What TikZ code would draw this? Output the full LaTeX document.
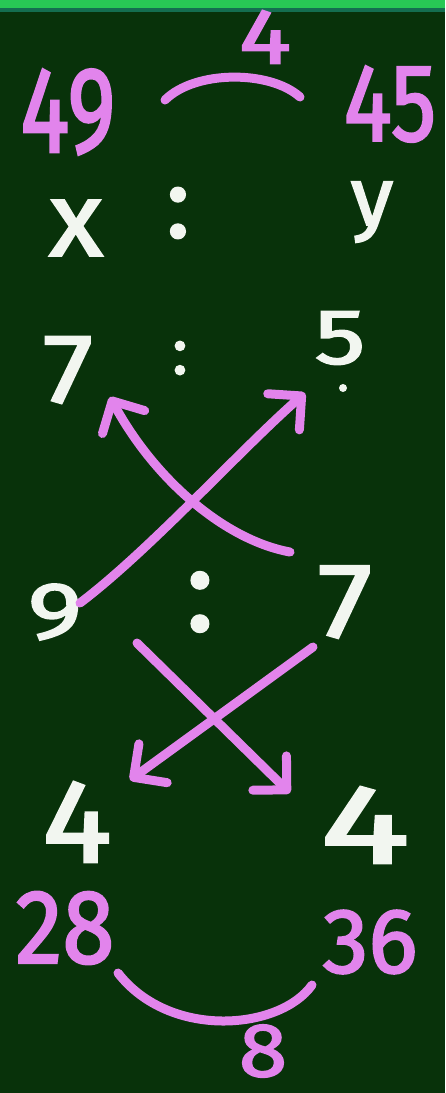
\documentclass[tikz,border=0pt]{standalone}
\usepackage{fontspec}
\usepackage{graphicx}
\setmainfont{Fira Sans}
\newfontfamily\hwfont{Fira Sans}[FakeBold=2.2]
\usetikzlibrary{arrows.meta}
\definecolor{board}{RGB}{8,50,10}
\definecolor{chalkpink}{RGB}{226,132,236}
\definecolor{chalkwhite}{RGB}{242,246,240}
\definecolor{topgreen}{RGB}{40,200,85}
\definecolor{topteal}{RGB}{20,110,80}
\newcommand{\hw}[3]{\fontsize{#1}{#1}\hwfont\scalebox{#2}[1]{#3}}
\tikzset{
  pinktext/.style={text=chalkpink, inner sep=0pt},
  whitetext/.style={text=chalkwhite, inner sep=0pt},
  stroke/.style={draw=chalkpink, line width=9pt, line cap=round},
  arr/.style={stroke, -{Straight Barb[length=24pt,width=48pt,round]}},
}
\begin{document}
\begin{tikzpicture}[x=1pt,y=-1pt]
\fill[board] (0,0) rectangle (445,1093);
\useasboundingbox (0,0) rectangle (445,1093);
\fill[topteal] (0,0) rectangle (445,12);
\fill[topgreen] (0,0) rectangle (445,8);
% top row
\node[pinktext] (n49) at (68,112) {\hw{122}{0.75}{49}};
\node[pinktext] (n4t) at (265,37) {\hw{78}{1.25}{4}};
\node[pinktext] (n45) at (390,104) {\hw{110}{0.82}{45}};
\coordinate (ta) at (165,100);
\coordinate (tb) at (300,97);
\draw[stroke] (ta) .. controls (195,70) and (270,70) .. (tb);
% x : y
\node[whitetext] (nx) at (76,228) {\hw{105}{1.05}{x}};
\node[whitetext] (c1) at (178,213) {\hw{100}{1.0}{:}};
\node[whitetext] (ny) at (372,212) {\hw{82}{1.05}{y}};
% 7 : 5
\node[whitetext] (n7a) at (68,370) {\hw{98}{1.15}{7}};
\node[whitetext] (c2) at (180,358) {\hw{66}{1.0}{:}};
\node[whitetext] (n5) at (340,338) {\hw{78}{1.3}{5}};
\fill[chalkwhite] (343,388) circle (4pt);
% 9 : 7
\node[whitetext] (n9) at (55,612) {\hw{80}{1.3}{9}};
\node[whitetext] (c3) at (200,602) {\hw{118}{1.0}{:}};
\node[whitetext] (n7b) at (345,602) {\hw{106}{1.15}{7}};
% 4 4
\node[whitetext] (n4l) at (77,822) {\hw{118}{1.1}{4}};
\node[whitetext] (n4r) at (365,825) {\hw{112}{1.5}{4}};
% 28 36
\node[pinktext] (n28) at (65,928) {\hw{105}{0.9}{28}};
\node[pinktext] (n36) at (370,942) {\hw{92}{1.0}{36}};
\coordinate (ba) at (118,973);
\coordinate (bb) at (312,985);
\draw[stroke] (ba) .. controls (170,1040) and (280,1030) .. (bb);
\node[pinktext] (n8) at (263,1051) {\hw{76}{1.15}{8}};
% arrows upper
\coordinate (a1s) at (290,552);
\coordinate (a1e) at (110,397);
\coordinate (a2s) at (80,603);
\coordinate (a2e) at (305,393);
\draw[arr] (a1s) .. controls (225,540) and (155,480) .. (a1e);
\draw[arr] (a2s) .. controls (150,550) and (240,450) .. (a2e);
% arrows lower
\coordinate (a3s) at (137,643);
\coordinate (a3e) at (290,793);
\coordinate (a4s) at (313,647);
\coordinate (a4e) at (130,780);
\draw[arr] (a3s) -- (a3e);
\draw[arr] (a4s) -- (a4e);
\end{tikzpicture}
\end{document}
